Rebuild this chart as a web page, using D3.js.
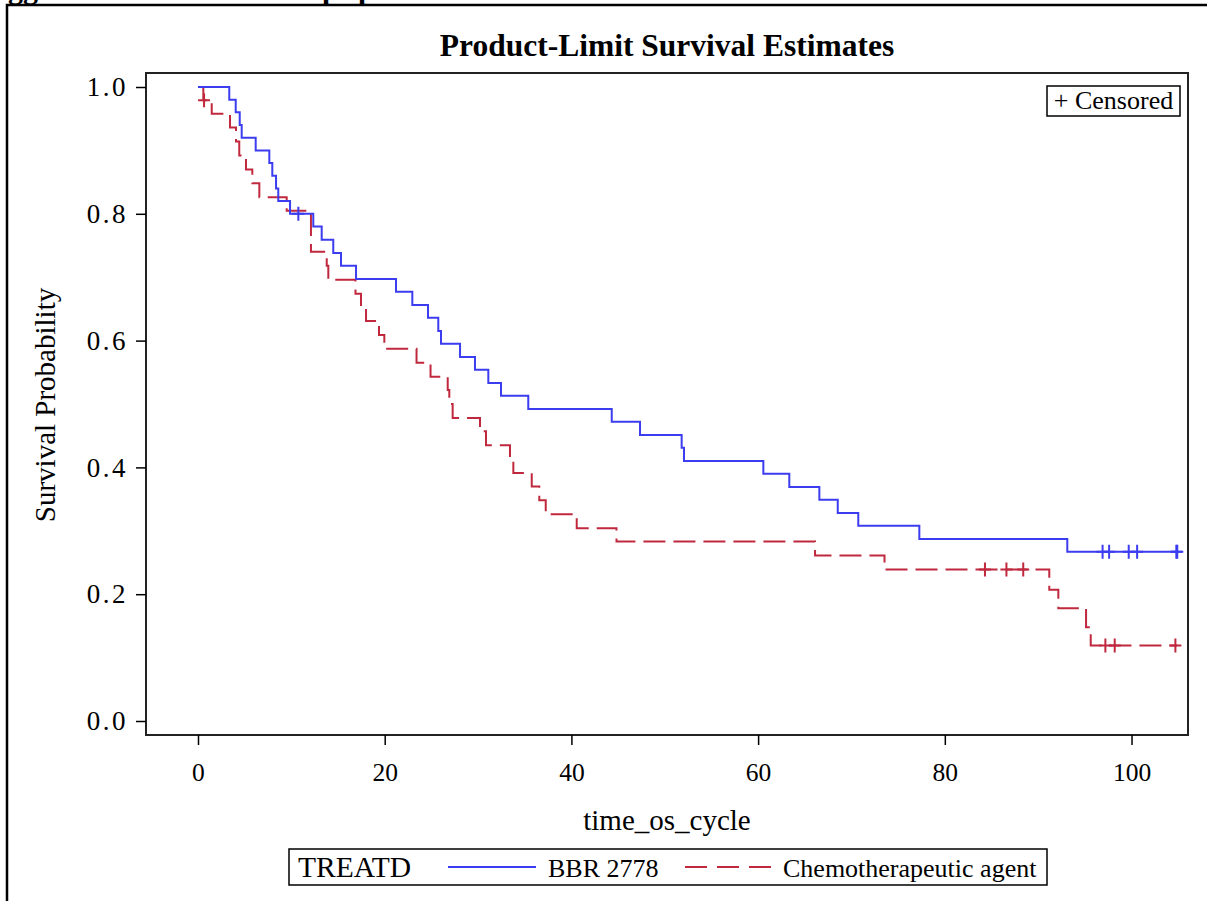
<!DOCTYPE html>
<html><head><meta charset="utf-8">
<script src="https://cdn.jsdelivr.net/npm/d3@7"></script>
<style>
html,body{margin:0;padding:0;background:#fff;}
svg{display:block;}
text{font-family:"Liberation Serif","Times New Roman",serif;fill:#000;}
</style></head>
<body>
<svg id="chart" width="1207" height="901"></svg>
<script>
// ---- data ----
const seriesNames = ["BBR 2778", "Chemotherapeutic agent"];
const blueTimes = [3.35,4.04,4.47,4.68,6.18,7.64,7.96,8.36,8.60,9.86,12.35,13.25,14.49,15.32,16.93,21.21,22.96,24.64,25.74,26.03,28.07,29.67,31.10,32.46,35.38,44.32,47.35,51.81,52.06,60.56,63.34,66.56,68.53,70.73,77.27,93.12];
const blueSurv = [0.98,0.96,0.94,0.92,0.90,0.88,0.86,0.84,0.82,0.80,0.780,0.759,0.738,0.718,0.697,0.677,0.656,0.636,0.615,0.595,0.574,0.554,0.533,0.513,0.492,0.472,0.451,0.431,0.410,0.390,0.369,0.349,0.328,0.308,0.287,0.267];
const blueCensor = [10.75,96.9,97.6,99.7,100.6,104.8,104.9];
const blueEnd = 104.9;
const redTimes = [0.57,1.47,3.43,4.07,4.42,5.14,5.82,6.57,9.50,12.10,13.79,13.96,16.87,17.46,18.00,19.39,19.96,23.41,24.91,26.75,26.92,27.28,30.21,30.85,33.42,33.78,35.75,36.56,37.25,40.57,44.83,66.10,73.54,91.19,92.16,95.13,95.63];
const redSurv = [0.979,0.958,0.936,0.914,0.892,0.870,0.848,0.826,0.805,0.740,0.718,0.696,0.674,0.652,0.631,0.609,0.587,0.565,0.543,0.522,0.500,0.478,0.457,0.435,0.413,0.391,0.370,0.348,0.326,0.304,0.283,0.261,0.239,0.207,0.178,0.148,0.119];
const redCensor = [0.65,84.3,86.6,88.4,97.2,98.2,104.7];
const redEnd = 104.9;
const xTicks = [0,20,40,60,80,100];
const yTicks = [0,0.2,0.4,0.6,0.8,1.0];

// ---- layout ----
const svg = d3.select("#chart");
const frame = {left:146, right:1188, top:73, bottom:735};
const x = d3.scaleLinear().domain([-5.57, 106.05]).range([frame.left, frame.right]);
const y = d3.scaleLinear().domain([0, 1]).range([721, 87]);
const blueCol = "#3c3cf0", redCol = "#c0283e";

// outer page frame + cropped heading fragments
svg.append("path").attr("d","M7,901 V5 H1207").attr("fill","none").attr("stroke","#000").attr("stroke-width",2.5);
const hd = svg.append("g").style("font-family","Liberation Sans, Arial, sans-serif").style("font-weight","bold").style("font-size","30px");
hd.append("text").attr("x",8).attr("y",-1).text("gg");
hd.append("text").attr("x",322).attr("y",-1).text("p");
hd.append("text").attr("x",358).attr("y",-1).text("p");

// title
svg.append("text").attr("x",(frame.left+frame.right)/2).attr("y",56).attr("text-anchor","middle")
  .style("font-weight","bold").style("font-size","31.5px").text("Product-Limit Survival Estimates");

// plot frame
svg.append("rect").attr("x",frame.left).attr("y",frame.top).attr("width",frame.right-frame.left)
  .attr("height",frame.bottom-frame.top).attr("fill","none").attr("stroke","#222").attr("stroke-width",2);

// axes
const yAxis = svg.append("g").attr("transform",`translate(${frame.left},0)`)
  .call(d3.axisLeft(y).tickValues(yTicks).tickFormat(d3.format(".1f")).tickSize(10).tickPadding(10));
yAxis.select(".domain").remove();
yAxis.selectAll("line").attr("stroke","#000").attr("stroke-width",1.5);
yAxis.selectAll("text").style("font-size","27px").style("letter-spacing","2.5px")
  .style("font-family","Liberation Serif, serif").attr("fill","#000").attr("dx","2");

const xAxis = svg.append("g").attr("transform",`translate(0,${frame.bottom})`)
  .call(d3.axisBottom(x).tickValues(xTicks).tickFormat(d3.format("d")).tickSize(10).tickPadding(18));
xAxis.select(".domain").remove();
xAxis.selectAll("line").attr("stroke","#000").attr("stroke-width",1.5);
xAxis.selectAll("text").style("font-size","25.5px").style("font-family","Liberation Serif, serif").attr("fill","#000");

// axis labels
svg.append("text").attr("x",667).attr("y",830).attr("text-anchor","middle").style("font-size","29px").text("time_os_cycle");
svg.append("text").attr("transform","translate(55,405) rotate(-90)").attr("text-anchor","middle")
  .style("font-size","29px").text("Survival Probability");

// curves
const line = d3.line().x(d=>x(d[0])).y(d=>y(d[1])).curve(d3.curveStepAfter);
function pts(times, surv, end){
  const p = [[0,1]];
  times.forEach((t,i)=>p.push([t,surv[i]]));
  p.push([end, surv[surv.length-1]]);
  return p;
}
function survAt(times, surv, t){
  let s = 1;
  times.forEach((tt,i)=>{ if(tt<=t) s = surv[i]; });
  return s;
}
const g = svg.append("g");
g.append("path").attr("d",line(pts(redTimes,redSurv,redEnd))).attr("fill","none")
  .attr("stroke",redCol).attr("stroke-width",2).attr("stroke-dasharray","22,8");
g.append("path").attr("d",line(pts(blueTimes,blueSurv,blueEnd))).attr("fill","none")
  .attr("stroke",blueCol).attr("stroke-width",2);

function drawCensor(times, surv, cens, col){
  cens.forEach(t=>{
    const cx = x(t), cy = y(survAt(times,surv,t));
    g.append("path").attr("d",`M${cx-6},${cy}H${cx+6}M${cx},${cy-7}V${cy+7}`)
      .attr("stroke",col).attr("stroke-width",2).attr("fill","none");
  });
}
drawCensor(redTimes,redSurv,redCensor,redCol);
drawCensor(blueTimes,blueSurv,blueCensor,blueCol);

// censored legend
svg.append("rect").attr("x",1047).attr("y",86).attr("width",133).attr("height",30)
  .attr("fill","#fff").attr("stroke","#000").attr("stroke-width",1.5);
svg.append("text").attr("x",1113.5).attr("y",109).attr("text-anchor","middle").style("font-size","26px").text("+ Censored");

// bottom legend
const lg = svg.append("g");
lg.append("rect").attr("x",289).attr("y",849).attr("width",758).attr("height",36)
  .attr("fill","#fff").attr("stroke","#000").attr("stroke-width",1.5);
lg.append("text").attr("x",298).attr("y",877).style("font-size","29.5px").text("TREATD");
lg.append("line").attr("x1",448).attr("x2",536).attr("y1",867).attr("y2",867).attr("stroke",blueCol).attr("stroke-width",2);
lg.append("text").attr("x",548).attr("y",877).style("font-size","26px").text(seriesNames[0]);
lg.append("line").attr("x1",685).attr("x2",772).attr("y1",867).attr("y2",867).attr("stroke",redCol)
  .attr("stroke-width",2).attr("stroke-dasharray","22,10");
lg.append("text").attr("x",783).attr("y",877).style("font-size","26px").text(seriesNames[1]);
</script>
</body></html>
